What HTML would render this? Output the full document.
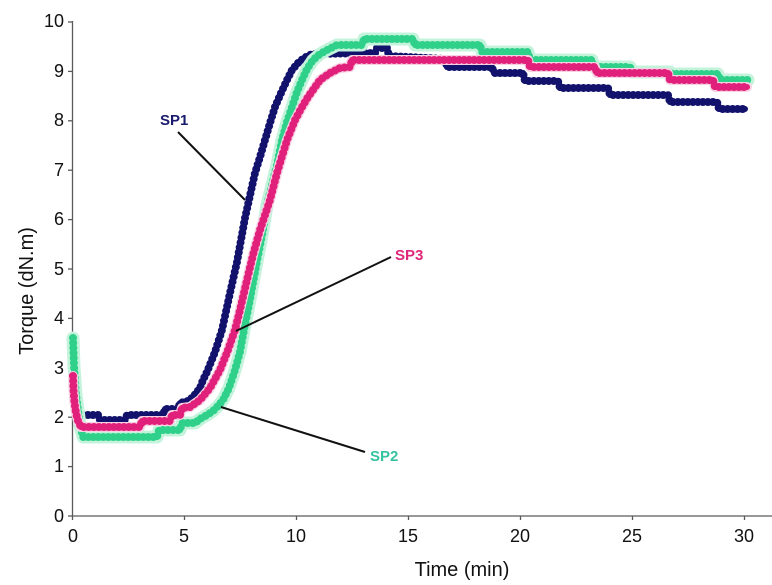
<!DOCTYPE html>
<html><head><meta charset="utf-8"><style>
html,body{margin:0;padding:0;background:#fff;}
svg{display:block;}
text{font-family:"Liberation Sans",Arial,sans-serif;}
</style></head><body>
<svg width="772" height="585" viewBox="0 0 772 585" xmlns="http://www.w3.org/2000/svg">
<rect width="772" height="585" fill="#fff"/>
<!-- axes -->
<g stroke="#5a5a5a" stroke-width="1.3" fill="none">
<line x1="72.5" y1="21" x2="72.5" y2="516"/>
<line x1="72" y1="516" x2="772" y2="516"/>
<line x1="68" y1="22" x2="72.5" y2="22"/>
<line x1="68" y1="71.4" x2="72.5" y2="71.4"/>
<line x1="68" y1="120.8" x2="72.5" y2="120.8"/>
<line x1="68" y1="170.2" x2="72.5" y2="170.2"/>
<line x1="68" y1="219.6" x2="72.5" y2="219.6"/>
<line x1="68" y1="269" x2="72.5" y2="269"/>
<line x1="68" y1="318.4" x2="72.5" y2="318.4"/>
<line x1="68" y1="367.8" x2="72.5" y2="367.8"/>
<line x1="68" y1="417.2" x2="72.5" y2="417.2"/>
<line x1="68" y1="466.6" x2="72.5" y2="466.6"/>
<line x1="68" y1="516" x2="72.5" y2="516"/>
<line x1="72.5" y1="516" x2="72.5" y2="520"/>
<line x1="184.5" y1="516" x2="184.5" y2="520"/>
<line x1="296.5" y1="516" x2="296.5" y2="520"/>
<line x1="408.5" y1="516" x2="408.5" y2="520"/>
<line x1="520.5" y1="516" x2="520.5" y2="520"/>
<line x1="632.5" y1="516" x2="632.5" y2="520"/>
<line x1="744.5" y1="516" x2="744.5" y2="520"/>
</g>
<g font-size="18" fill="#111" text-anchor="end">
<text x="64" y="27">10</text>
<text x="64" y="77">9</text>
<text x="64" y="126">8</text>
<text x="64" y="176">7</text>
<text x="64" y="225">6</text>
<text x="64" y="275">5</text>
<text x="64" y="324">4</text>
<text x="64" y="374">3</text>
<text x="64" y="423">2</text>
<text x="64" y="472">1</text>
<text x="64" y="522">0</text>
</g>
<g font-size="18" fill="#111" text-anchor="middle">
<text x="73" y="542">0</text>
<text x="184" y="542">5</text>
<text x="296" y="542">10</text>
<text x="408" y="542">15</text>
<text x="520" y="542">20</text>
<text x="632" y="542">25</text>
<text x="744" y="542">30</text>
</g>
<text x="462" y="576" font-size="20" fill="#111" text-anchor="middle">Time (min)</text>
<text x="0" y="0" font-size="20" fill="#111" text-anchor="middle" transform="translate(33,291) rotate(-90)">Torque (dN.m)</text>

<!-- series -->
<g fill="none" stroke-linejoin="round" stroke-linecap="round">
<!-- navy SP1 -->
<polyline stroke="#12126c" stroke-width="6" points="73,364 73.5,378 74.5,392 76,404 78,412 80,415 98,415 100,420 125,420 127,415 163,415 165,409 178,409 180,403 188,401 193,397 200,388 203,380 207,372 215,352 222,330 230,293 237,262 241,240 245,218 249,200 255,173 260,157 265,140 270,123 275,107 281,93 287,80 292,70 298,63 304,58 310,55 312,54 375,53 377,48 387,48 389,56 445,59 447,67 492,67 494,73 523,73 525,81 558,81 560,88 608,88 610,95 668,95 670,102 717,102 719,109 745,109"/>
<polyline stroke="#12126c" stroke-width="8" stroke-dasharray="0 5" points="73,364 73.5,378 74.5,392 76,404 78,412 80,415 98,415 100,420 125,420 127,415 163,415 165,409 178,409 180,403 188,401 193,397 200,388 203,380 207,372 215,352 222,330 230,293 237,262 241,240 245,218 249,200 255,173 260,157 265,140 270,123 275,107 281,93 287,80 292,70 298,63 304,58 310,55 312,54 375,53 377,48 387,48 389,56 445,59 447,67 492,67 494,73 523,73 525,81 558,81 560,88 608,88 610,95 668,95 670,102 717,102 719,109 745,109"/>
<!-- green SP2 -->
<polyline stroke="#c4f3dc" stroke-width="13" points="73,338 73.5,352 74,366 75,381 76,395 78,410 80,425 83,437 157,437 159,430 180,430 182,423 195,423 200,419 207,415 213,411 218,406 223,400 229,388 235,370 240,352 244,330 248,310 253,283 258,256 263,230 267,205 272,185 277,165 282,140 287,122 292,107 297,92 302,80 307,69 313,60 320,54 327,50 337,45 362,45 364,39 413,39 415,45 480,45 482,52 528,52 530,60 592,60 594,67 630,67 632,72 670,72 672,74 718,74 720,80 748,80"/>
<polyline stroke="#2fd08a" stroke-width="6" points="73,338 73.5,352 74,366 75,381 76,395 78,410 80,425 83,437 157,437 159,430 180,430 182,423 195,423 200,419 207,415 213,411 218,406 223,400 229,388 235,370 240,352 244,330 248,310 253,283 258,256 263,230 267,205 272,185 277,165 282,140 287,122 292,107 297,92 302,80 307,69 313,60 320,54 327,50 337,45 362,45 364,39 413,39 415,45 480,45 482,52 528,52 530,60 592,60 594,67 630,67 632,72 670,72 672,74 718,74 720,80 748,80"/>
<polyline stroke="#2fd08a" stroke-width="8" stroke-dasharray="0 5" points="73,338 73.5,352 74,366 75,381 76,395 78,410 80,425 83,437 157,437 159,430 180,430 182,423 195,423 200,419 207,415 213,411 218,406 223,400 229,388 235,370 240,352 244,330 248,310 253,283 258,256 263,230 267,205 272,185 277,165 282,140 287,122 292,107 297,92 302,80 307,69 313,60 320,54 327,50 337,45 362,45 364,39 413,39 415,45 480,45 482,52 528,52 530,60 592,60 594,67 630,67 632,72 670,72 672,74 718,74 720,80 748,80"/>
<!-- pink SP3 -->
<polyline stroke="#f7d0e2" stroke-width="10" points="73,376 73.5,390 74.5,403 76,413 78,421 81,427 140,427 142,421 170,421 172,415 180,415 182,408 190,407 200,400 210,388 220,370 228,350 235,330 240,310 247,280 253,255 260,230 265,215 270,200 277,173 287,140 295,120 302,107 308,97 313,90 320,80 330,73 340,68 350,67 352,60 528,60 530,67 595,67 597,73 668,73 670,80 713,80 715,87 747,87"/>
<polyline stroke="#e0207a" stroke-width="6" points="73,376 73.5,390 74.5,403 76,413 78,421 81,427 140,427 142,421 170,421 172,415 180,415 182,408 190,407 200,400 210,388 220,370 228,350 235,330 240,310 247,280 253,255 260,230 265,215 270,200 277,173 287,140 295,120 302,107 308,97 313,90 320,80 330,73 340,68 350,67 352,60 528,60 530,67 595,67 597,73 668,73 670,80 713,80 715,87 747,87"/>
<polyline stroke="#e0207a" stroke-width="8" stroke-dasharray="0 5" points="73,376 73.5,390 74.5,403 76,413 78,421 81,427 140,427 142,421 170,421 172,415 180,415 182,408 190,407 200,400 210,388 220,370 228,350 235,330 240,310 247,280 253,255 260,230 265,215 270,200 277,173 287,140 295,120 302,107 308,97 313,90 320,80 330,73 340,68 350,67 352,60 528,60 530,67 595,67 597,73 668,73 670,80 713,80 715,87 747,87"/>
</g>

<!-- annotations -->
<g stroke="#111" stroke-width="2" fill="none">
<line x1="178" y1="132" x2="245" y2="200"/>
<line x1="391" y1="257" x2="236" y2="331"/>
<line x1="221" y1="407" x2="365" y2="452"/>
</g>
<g font-size="15" font-weight="bold">
<text x="160" y="125" fill="#1a1a6e">SP1</text>
<text x="395" y="260" fill="#e0287a">SP3</text>
<text x="370" y="461" fill="#33c3a0">SP2</text>
</g>
</svg>
</body></html>
